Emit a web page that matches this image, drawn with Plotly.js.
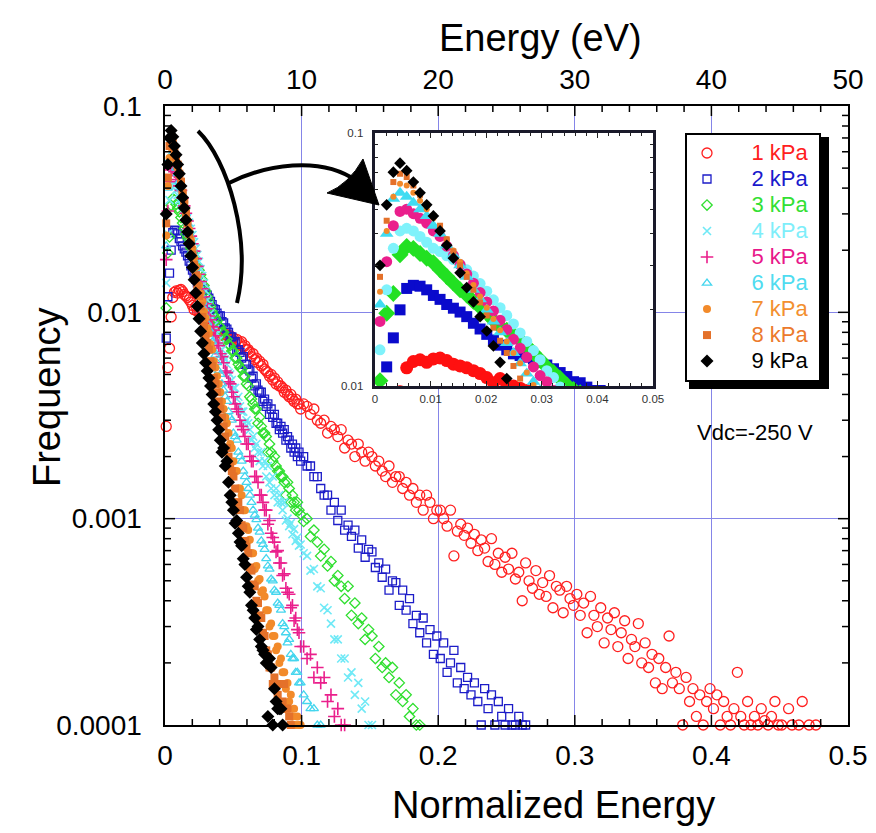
<!DOCTYPE html>
<html><head><meta charset="utf-8">
<script src="https://cdn.plot.ly/plotly-3.0.1.min.js"></script>
<style>html,body{margin:0;padding:0;background:#fff}</style>
</head><body><div id="chart" style="width:876px;height:833px"></div>
<script>
// ---------- DATA (normalized energy bins, frequency per pressure) ----------
const binsFine = [0.0009,0.0021,0.0033,0.0045,0.0057,0.0069,0.0081,0.0093,0.0105,0.0117,
0.0129,0.0141,0.0153,0.0165,0.0177,0.0189,0.0201,0.0213,0.0225,0.0237,
0.0249,0.0261,0.0273,0.0285,0.0297,0.0309,0.0321,0.0333,0.0345,0.0357,
0.0369,0.0381,0.0393,0.0405,0.0417,0.0429,0.0441,0.0453,0.0465,0.0477,
0.0489,0.0501,0.0513,0.0525,0.0537,0.0549,0.0561,0.0573,0.0585,0.0597,
0.0609,0.0621,0.0633,0.0645,0.0657,0.0669,0.0681,0.0693,0.0705,0.0717,
0.0729,0.0741,0.0753,0.0765,0.0777,0.0789,0.0801,0.0813,0.0825,0.0837,
0.0849,0.0861,0.0873,0.0885,0.0897,0.0909,0.0921,0.0933,0.0945,0.0957,
0.0969,0.0981,0.0993];
const binsCoarse = [0.1015,0.104,0.1065,0.109,0.1115,0.114,0.1165,0.119,0.1215,0.124,
0.1265,0.129,0.1315,0.134,0.1365,0.139,0.1415,0.144,0.1465,0.149,
0.1515,0.154,0.1565,0.159,0.1615,0.164,0.1665,0.169,0.1715,0.174,
0.1765,0.179,0.1815,0.184,0.1865,0.189,0.1915,0.194,0.1965,0.199,
0.2015,0.204,0.2065,0.209,0.2115,0.214,0.2165,0.219,0.2215,0.224,
0.2265,0.229,0.2315,0.234,0.2365,0.239,0.2415,0.244,0.2465,0.249,
0.2515,0.254,0.2565,0.259,0.2615,0.264,0.2665,0.269,0.2715,0.274,
0.2765,0.279,0.2815,0.284,0.2865,0.289,0.2915,0.294,0.2965,0.299,
0.3015,0.304,0.3065,0.309,0.3115,0.314,0.3165,0.319,0.3215,0.324,
0.3265,0.329,0.3315,0.334,0.3365,0.339,0.3415,0.344,0.3465,0.349,
0.3515,0.354,0.3565,0.359,0.3615,0.364,0.3665,0.369,0.3715,0.374,
0.3765,0.379,0.3815,0.384,0.3865,0.389,0.3915,0.394,0.3965,0.399,
0.4015,0.404,0.4065,0.409,0.4115,0.414,0.4165,0.419,0.4215,0.424,
0.4265,0.429,0.4315,0.434,0.4365,0.439,0.4415,0.444,0.4465,0.449,
0.4515,0.454,0.4565,0.459,0.4615,0.464,0.4665,0.469,0.4715,0.474,
0.4765];

const f1kPa = [0.0028,0.0054,0.0067,0.0095,0.0118,0.0125,0.0127,0.0124,0.0128,0.0129,
0.0126,0.0122,0.0120,0.0118,0.0115,0.0112,0.0108,0.0103,0.0107,0.0101,
0.0100,0.0098,0.0096,0.0095,0.0093,0.0090,0.0089,0.0087,0.0085,0.0084,
0.0083,0.0080,0.0081,0.0078,0.0081,0.0077,0.0078,0.0078,0.0075,0.0077,
0.0074,0.0075,0.0072,0.0074,0.0070,0.0071,0.0072,0.0068,0.0069,0.0066,
0.0066,0.0064,0.0061,0.0063,0.0059,0.0060,0.0057,0.0058,0.0055,0.0056,
0.0053,0.0052,0.0051,0.0049,0.0050,0.0047,0.0048,0.0045,0.0046,0.0044,
0.0044,0.0043,0.0041,0.0042,0.0040,0.0039,0.0040,0.0038,0.0037,0.0038,
0.0036,0.0036,0.0034,
0.0036,0.0035,0.0032,0.0034,0.0030,0.0029,0.0030,0.0026,0.0028,0.0027,
0.0025,0.0027,0.0022,0.0024,0.0023,0.0020,0.0023,0.0021,0.0019,0.0021,
0.0020,0.0018,0.0019,0.0017,0.0016,0.0018,0.0015,0.0016,0.0016,0.0014,
0.0015,0.0013,0.0014,0.0012,0.0013,0.0011,0.0013,0.0012,0.0010,0.0011,
0.0011,0.0010,0.00092,0.0011,0.00066,0.00087,0.00094,0.00083,0.00090,0.00076,
0.00084,0.00070,0.00079,0.00072,0.00062,0.00080,0.00060,0.00068,0.00055,0.00065,
0.00057,0.00068,0.00051,0.00055,0.00040,0.00061,0.00050,0.00046,0.00056,0.00043,
0.00049,0.00042,0.00053,0.00037,0.00047,0.00045,0.00035,0.00047,0.00041,0.00038,
0.00043,0.00034,0.00039,0.00028,0.00042,0.00034,0.00030,0.00037,0.00025,0.00033,
0.00029,0.00035,0.00024,0.00028,0.00032,0.00021,0.00026,0.00024,0.00031,0.00020,
0.00025,0.00019,0.00022,0.00016,0.00021,0.00015,0.00019,0.00027,0.00016,0.00018,
0.00015,0.0001,0.00017,0.00013,0.00015,0.00011,0.00014,0.0001,0.00013,0.00015,
0.00012,0.00014,0.0001,0.00013,0.00011,0.0001,0.00012,0.00018,0.00011,0.0001,
0.00013,0.0001,0.00011,0.0001,0.00012,0.000105,0.0001,0.00011,0.00013,0.0001,
0.0001,null,0.00012,0.0001,null,0.0001,0.00013,null,0.0001,null,
0.0001];

const f2kPa = [0.0075,0.0119,0.0155,0.020,0.0243,0.025,0.0248,0.024,0.0228,0.022,
0.021,0.0203,0.0196,0.0188,0.0177,0.0168,0.016,0.0152,0.0145,0.0139,
0.0134,0.0132,0.013,0.0128,0.0124,0.0121,0.0117,0.0113,0.0109,0.0104,
0.0103,0.0099,0.0096,0.0096,0.0090,0.0089,0.0084,0.0083,0.0080,0.0076,
0.0076,0.0071,0.0072,0.0066,0.0066,0.0064,0.0060,0.0061,0.0056,0.0056,
0.0053,0.0052,0.0048,0.0049,0.0044,0.0045,0.0042,0.0041,0.0041,0.0037,
0.0038,0.0035,0.0036,0.0032,0.0034,0.0031,0.0032,0.0029,0.0029,0.0027,
0.0028,0.0026,0.0027,0.0024,0.0025,0.0024,0.0022,0.0023,0.0021,0.0022,
0.0020,0.0021,0.0019,
0.0020,0.0018,0.0018,0.0016,0.0016,0.0014,0.0013,0.0013,0.0011,0.0012,
0.00098,0.0011,0.00088,0.00093,0.00082,0.00088,0.00072,0.00079,0.00065,0.00071,
0.00069,0.00058,0.00061,0.00052,0.00057,0.00045,0.00050,0.00049,0.00038,0.00045,
0.00036,0.00041,0.00031,0.00034,0.00028,0.00033,0.00025,0.00029,0.00022,0.00027,
0.00021,0.00025,0.00018,0.0002,0.00023,0.00016,0.00019,0.00015,0.00017,0.00014,
0.00016,0.00013,0.0001,0.00015,0.00012,0.00014,0.0001,0.00013,0.00011,0.0001,
0.00012,0.0001,0.0001,0.00011,0.0001,0.0001];

const f3kPa = [0.0105,0.0194,0.0232,0.033,0.0356,0.035,0.0334,0.032,0.0307,0.0288,
0.0271,0.0255,0.024,0.0229,0.0216,0.0205,0.0194,0.0182,0.0172,0.0166,
0.016,0.0152,0.0144,0.0135,0.0127,0.0119,0.0113,0.0107,0.0101,0.0097,
0.0094,0.0091,0.0086,0.0085,0.0080,0.0080,0.0075,0.0074,0.0070,0.0069,
0.0065,0.0065,0.0060,0.0060,0.0056,0.0054,0.0053,0.0049,0.0049,0.0045,
0.0044,0.0039,0.0038,0.0036,0.0034,0.0034,0.0029,0.0031,0.0028,0.0026,
0.0026,0.0025,0.0021,0.0023,0.0021,0.0019,0.0020,0.0018,0.0017,0.0017,
0.0016,0.0016,0.0015,0.0013,0.0015,0.0014,0.0012,0.0013,0.0012,0.0011,
0.0012,0.0011,0.00105,
0.00097,0.0010,0.00082,0.00088,0.00077,0.00066,0.00071,0.00059,0.00062,0.0005,
0.00053,0.00047,0.00041,0.00047,0.00034,0.00039,0.00031,0.00033,0.00026,0.00029,
0.00027,0.00021,0.00024,0.00019,0.0002,0.00017,0.00019,0.00014,0.00016,0.00013,
0.00014,0.00011,0.00012,0.0001,0.0001];

const f4kPa = [0.0139,0.024,0.035,0.041,0.042,0.041,0.039,0.037,0.035,0.034,
0.0327,0.0316,0.0302,0.0288,0.0272,0.0254,0.0237,0.0219,0.0204,0.019,
0.0176,0.0162,0.0150,0.0138,0.0127,0.0115,0.0108,0.0099,0.0094,0.0086,
0.0083,0.0079,0.0073,0.0070,0.0066,0.0061,0.0059,0.0056,0.0051,0.0050,
0.0047,0.0043,0.0043,0.0038,0.0039,0.0035,0.0033,0.0033,0.0029,0.0030,
0.0029,0.0027,0.0024,0.0025,0.0022,0.0023,0.0021,0.0019,0.0021,0.0018,
0.0019,0.0016,0.0018,0.0015,0.0014,0.0016,0.0013,0.0014,0.0012,0.0013,
0.0012,0.0011,0.0012,0.00098,0.0010,0.00092,0.00095,0.00084,0.00089,0.00078,
0.00081,0.00074,0.00075,
0.00068,0.00066,0.00056,0.00057,0.00047,0.00046,0.00037,0.00036,0.00031,0.00026,
0.00026,0.00021,0.00021,0.00017,0.00018,0.00014,0.00016,0.00012,0.00013,0.0001,
0.0001];

const f5kPa = [0.018,0.031,0.043,0.049,0.050,0.048,0.046,0.044,0.041,0.039,
0.0357,0.0328,0.0302,0.0277,0.0255,0.0234,0.0215,0.0198,0.0182,0.0167,
0.0153,0.0141,0.013,0.0119,0.011,0.0104,0.0096,0.0092,0.0085,0.0082,
0.0077,0.0071,0.0069,0.0063,0.0061,0.0057,0.0052,0.0051,0.0046,0.0045,
0.0041,0.0039,0.0036,0.0034,0.0033,0.0030,0.0028,0.0027,0.0025,0.0023,
0.0023,0.0020,0.0019,0.0019,0.0016,0.0016,0.0015,0.0013,0.0013,0.0012,
0.0011,0.0011,0.00094,0.00098,0.00085,0.00081,0.00077,0.00069,0.00070,0.00061,
0.00061,0.00053,0.00054,0.00046,0.00044,0.00043,0.00037,0.00038,0.00032,0.00033,
0.00029,0.00028,0.00024,
0.00024,0.00021,0.00022,0.00017,0.00019,0.00016,0.00017,0.00013,0.00014,0.00011,
0.00012,0.0001,0.0001];

const f6kPa = [0.021,0.040,0.055,0.058,0.056,0.053,0.050,0.047,0.043,0.040,
0.036,0.033,0.030,0.027,0.024,0.022,0.020,0.018,0.0163,0.0148,
0.0135,0.0123,0.0112,0.0104,0.0096,0.0089,0.0083,0.0075,0.0072,0.0065,
0.0062,0.0057,0.0052,0.0050,0.0045,0.0042,0.0039,0.0037,0.0033,0.0031,
0.0030,0.0026,0.0025,0.0024,0.0021,0.0020,0.0019,0.0017,0.0016,0.0015,
0.0014,0.0013,0.0012,0.0011,0.00104,0.00099,0.0009,0.00086,0.00078,0.00075,
0.00071,0.00064,0.00059,0.00057,0.00051,0.00050,0.00045,0.00044,0.00039,0.00038,
0.00036,0.00031,0.00030,0.00028,0.00025,0.00026,0.00022,0.00021,0.00021,0.00018,
0.00018,0.00016,0.00016,
0.00014,0.00013,0.00012,0.00012,0.0001,0.0001];

const f7kPa = [0.0236,0.041,0.056,0.063,0.062,0.058,0.054,0.050,0.046,0.042,
0.038,0.0343,0.031,0.0279,0.0251,0.0226,0.0204,0.0184,0.0166,0.015,
0.0135,0.0123,0.0113,0.0101,0.0094,0.0084,0.0079,0.0070,0.0066,0.0058,
0.0054,0.0049,0.0045,0.0041,0.0037,0.0034,0.0031,0.0029,0.0026,0.0023,
0.0022,0.0019,0.0017,0.0017,0.0014,0.0014,0.0013,0.0011,0.0011,0.00092,
0.00088,0.00079,0.00068,0.00068,0.00057,0.00059,0.00050,0.00051,0.00044,0.00045,
0.00042,0.00036,0.00036,0.00030,0.00031,0.00027,0.00027,0.00023,0.00024,0.0002,
0.00021,0.00018,0.00018,0.00015,0.00016,0.00013,0.00014,0.00011,0.00012,0.0001,
0.00011,0.0001,0.0001];

const f8kPa = [0.027,0.045,0.064,0.069,0.067,0.062,0.057,0.052,0.047,0.043,
0.038,0.034,0.030,0.027,0.024,0.0214,0.019,0.017,0.0151,0.0135,
0.0120,0.0107,0.0095,0.0086,0.0077,0.0071,0.0066,0.0058,0.0055,0.0048,
0.0045,0.0041,0.0037,0.0034,0.0031,0.0028,0.0025,0.0022,0.0020,0.0018,
0.0017,0.0016,0.0014,0.0012,0.0012,0.0011,0.00093,0.0009,0.00078,0.00073,
0.00068,0.00058,0.00056,0.00048,0.00047,0.0004,0.00039,0.00034,0.00033,0.00028,
0.00027,0.00023,0.00022,0.00019,0.00019,0.000158,0.00017,0.000158,0.00014,0.000158,
0.000158,0.00013,0.000158,0.00012,0.00012,0.00011,0.0001];

const f9kPa = [0.030,0.052,0.070,0.076,0.071,0.064,0.058,0.052,0.047,0.041,
0.036,0.032,0.028,0.0245,0.0215,0.0188,0.0165,0.0144,0.0124,0.0107,
0.0093,0.0081,0.0071,0.0063,0.0057,0.0052,0.0048,0.0044,0.0040,0.0036,
0.0033,0.0030,0.0027,0.0024,0.0021,0.0022,0.0018,0.0019,0.0015,0.0013,
0.0012,0.0011,0.00095,0.00098,0.00085,0.00077,0.00074,0.00064,0.00060,0.00052,
0.00047,0.00044,0.00038,0.00036,0.00033,0.00029,0.00030,0.00026,0.00024,0.00023,
0.00022,0.00020,0.00011,0.00021,0.00019,0.0001,0.00015,0.00013,0.00012,0.00012,
0.00012,0.0001];

const seriesNames = ['1 kPa','2 kPa','3 kPa','4 kPa','5 kPa','6 kPa','7 kPa','8 kPa','9 kPa'];
const seriesValues = [f1kPa,f2kPa,f3kPa,f4kPa,f5kPa,f6kPa,f7kPa,f8kPa,f9kPa];
const xRange = [0, 0.5];
const yLogRange = [-4, -1];
const freqTicks = [0.0001,0.001,0.01,0.1];
const freqTickText = ['0.0001','0.001','0.01','0.1'];
const freqMinor = [0.0002,0.0003,0.0004,0.0005,0.0006,0.0007,0.0008,0.0009,
  0.002,0.003,0.004,0.005,0.006,0.007,0.008,0.009,0.02,0.03,0.04,0.05,0.06,0.07,0.08,0.09];
const freqInnerMajor = [0.001,0.01];
const energyMajor = [0.1,0.2,0.3,0.4];
const energyMinor = [0.02,0.04,0.06,0.08,0.12,0.14,0.16,0.18,0.22,0.24,0.26,0.28,
  0.32,0.34,0.36,0.38,0.42,0.44,0.46,0.48];
const insetTicks = [0.01,0.1];
const insetTickText = ['0.01','0.1'];
const insetMinor = [0.02,0.03,0.04,0.05,0.06,0.07,0.08,0.09];

// ---------- STYLES ----------
const mainStyle = [
  {sym:'circle-open', size:10, col:'#ff1f1f', lw:1.3, tcol:'#ff2020'},
  {sym:'square-open', size:8, col:'#1c1cc8', lw:1.3, tcol:'#1a1acc'},
  {sym:'diamond-open', size:8, col:'#2fdf2f', lw:1.3, tcol:'#33e033'},
  {sym:'x-thin-open', size:8, col:'#6fe9f6', lw:1.6, tcol:'#7eeefa'},
  {sym:'cross-thin-open', size:9, col:'#ea1f8c', lw:1.6, tcol:'#e8188a'},
  {sym:'triangle-up-open', size:8, col:'#45d6ee', lw:1.3, tcol:'#4fdcf0'},
  {sym:'circle', size:8, col:'#f28a2a', lw:0, tcol:'#f39030'},
  {sym:'square', size:8, col:'#e4712a', lw:0, tcol:'#ec7a2c'},
  {sym:'diamond', size:10, col:'#000000', lw:0, tcol:'#000000'}
];
const insetStyle = [
  {sym:'circle', size:13, col:'#ff1010'},
  {sym:'square', size:11, col:'#0a0acc'},
  {sym:'diamond', size:13, col:'#22e022'},
  {sym:'circle', size:11, col:'#7ff2fb'},
  {sym:'circle', size:11, col:'#ea1f8c'},
  {sym:'triangle-up', size:12, col:'#40dcf2'},
  {sym:'circle', size:6, col:'#f28a2a'},
  {sym:'square', size:6, col:'#e4712a'},
  {sym:'diamond', size:9, col:'#000000'}
];

const allBins = binsFine.concat(binsCoarse);
const traces = [];
seriesValues.forEach((vals, i) => {
  const s = mainStyle[i];
  traces.push({
    type:'scatter', mode:'markers', xaxis:'x', yaxis:'y', cliponaxis:false,
    x: allBins.slice(0, vals.length), y: vals,
    name: '<span style="color:' + s.tcol + ';font-size:22px">\u00a0\u00a0\u00a0\u00a0' + seriesNames[i] + '\u00a0</span>',
    marker:{symbol:s.sym, size:s.size, color:s.col, line:{color:s.col, width:s.lw}},
    hoverinfo:'skip'
  });
});
seriesValues.forEach((vals, i) => {
  const s = insetStyle[i];
  traces.push({
    type:'scatter', mode:'markers', xaxis:'x3', yaxis:'y3', showlegend:false,
    x: allBins.slice(0, vals.length), y: vals,
    marker:{symbol:s.sym, size:s.size, color:s.col, line:{width:0}},
    hoverinfo:'skip'
  });
});
// empty trace so that the top Energy (eV) axis is drawn
traces.push({type:'scatter', mode:'markers', xaxis:'x2', yaxis:'y', x:[], y:[], showlegend:false, hoverinfo:'skip'});

// ---------- LAYOUT ----------
const L = 165, T = 106, W = 683, H = 619;
const px = v => (v - L) / W;
const py = v => 1 - (v - T) / H;
const P = (x, y) => px(x).toFixed(5) + ',' + py(y).toFixed(5);
const FONT = 'Liberation Sans, Arial, Helvetica, sans-serif';
const grid = '#8585e8';
const pad2 = '\u00a0\u00a0';

// inside tick marks of the main frame (drawn as unclipped frame decorations)
const fracX = v => (v - xRange[0]) / (xRange[1] - xRange[0]);
const fracY = v => (Math.log10(v) - yLogRange[0]) / (yLogRange[1] - yLogRange[0]);
const tickShapes = [];
const tickLine = {color:'#000', width:1.5};
function xTick(v, len) {
  const f = fracX(v), d = len / H;
  tickShapes.push({type:'line', layer:'above', xref:'paper', yref:'paper', x0:f, x1:f, y0:0, y1:d, line:tickLine});
  tickShapes.push({type:'line', layer:'above', xref:'paper', yref:'paper', x0:f, x1:f, y0:1, y1:1 - d, line:tickLine});
}
function yTick(v, len) {
  const f = fracY(v), d = len / W;
  tickShapes.push({type:'line', layer:'above', xref:'paper', yref:'paper', y0:f, y1:f, x0:0, x1:d, line:tickLine});
  tickShapes.push({type:'line', layer:'above', xref:'paper', yref:'paper', y0:f, y1:f, x0:1, x1:1 - d, line:tickLine});
}
energyMajor.forEach(v => xTick(v, 10));
energyMinor.forEach(v => xTick(v, 6));
freqInnerMajor.forEach(v => yTick(v, 10));
freqMinor.forEach(v => yTick(v, 6));

const layout = {
  width:876, height:833,
  margin:{l:L, r:876 - L - W, t:T, b:833 - T - H, pad:0},
  paper_bgcolor:'#ffffff', plot_bgcolor:'#ffffff',
  font:{family:FONT, color:'#000', size:20},
  showlegend:true,
  legend:{x:px(685), y:py(133), xanchor:'left', yanchor:'top', bgcolor:'#ffffff',
    bordercolor:'#000', borderwidth:2, font:{size:17.7, family:FONT}, itemwidth:30, tracegroupgap:0},
  xaxis:{domain:[0,1], anchor:'y', range:xRange, dtick:0.1, tick0:0, ticks:'',
    showgrid:true, gridcolor:grid, gridwidth:1.2, zeroline:false,
    showline:true, linecolor:'#000', linewidth:2, mirror:true,
    tickfont:{size:28, family:FONT}, ticklabelstandoff:4},
  xaxis2:{overlaying:'x', anchor:'y', side:'top', range:[0,50], dtick:10, tick0:0, ticks:'',
    showgrid:false, zeroline:false, showline:false,
    tickfont:{size:28, family:FONT}, ticklabelstandoff:10},
  yaxis:{domain:[0,1], anchor:'x', type:'log', range:yLogRange,
    tickmode:'array', tickvals:freqTicks, ticktext:freqTickText.map(t => t + pad2), ticks:'',
    showgrid:true, gridcolor:grid, gridwidth:1.2, zeroline:false,
    showline:true, linecolor:'#000', linewidth:2, mirror:true,
    tickfont:{size:28, family:FONT}},
  xaxis3:{domain:[px(375), px(653)], anchor:'y3', range:[0,0.05], dtick:0.01, tick0:0,
    ticks:'inside', ticklen:5, tickwidth:1, tickcolor:'#222',
    minor:{dtick:0.002, tick0:0, ticks:'inside', ticklen:3, tickwidth:1, tickcolor:'#222'},
    showgrid:false, zeroline:false, showline:true, linecolor:'#1a1a2a', linewidth:3, mirror:'ticks',
    tickfont:{size:11.5, family:FONT, color:'#333'}},
  yaxis3:{domain:[py(386), py(133)], anchor:'x3', type:'log', range:[-2,-1],
    tickmode:'array', tickvals:insetTicks, ticktext:insetTickText.map(t => t + pad2),
    ticks:'inside', ticklen:5, tickwidth:1, tickcolor:'#222',
    minor:{tickmode:'array', tickvals:insetMinor, ticks:'inside', ticklen:3, tickwidth:1, tickcolor:'#222'},
    showgrid:false, zeroline:false, showline:true, linecolor:'#1a1a2a', linewidth:3, mirror:'ticks',
    tickfont:{size:11.5, family:FONT, color:'#333'}},
  annotations:[
    {text:'Normalized Energy', xref:'paper', yref:'paper', x:px(553), y:py(805), showarrow:false,
      xanchor:'center', yanchor:'middle', font:{size:38, family:FONT}},
    {text:'Energy (eV)', xref:'paper', yref:'paper', x:px(540), y:py(38), showarrow:false,
      xanchor:'center', yanchor:'middle', font:{size:38, family:FONT}},
    {text:'Frequency', xref:'paper', yref:'paper', x:px(47), y:py(397), showarrow:false, textangle:-90,
      xanchor:'center', yanchor:'middle', font:{size:38, family:FONT}},
    {text:'Vdc=-250 V', xref:'paper', yref:'paper', x:px(755), y:py(432), showarrow:false,
      xanchor:'center', yanchor:'middle', font:{size:22, family:FONT}}
  ],
  shapes:[
    {type:'rect', xref:'paper', yref:'paper', layer:'above', x0:px(689), x1:px(829), y0:py(137), y1:py(389),
      fillcolor:'#000', line:{width:0}},
    {type:'path', xref:'paper', yref:'paper', layer:'above',
      path:'M' + P(198,131) + ' C' + P(228,160) + ' ' + P(252,240) + ' ' + P(237,303),
      line:{color:'#000', width:4}},
    {type:'path', xref:'paper', yref:'paper', layer:'above',
      path:'M' + P(229,183) + ' C' + P(265,165) + ' ' + P(320,155) + ' ' + P(357,181),
      line:{color:'#000', width:4}},
    {type:'path', xref:'paper', yref:'paper', layer:'above',
      path:'M' + P(327,193) + ' Q' + P(349,184) + ' ' + P(363,159) + ' L' + P(379,205) + ' Z',
      fillcolor:'#000', line:{color:'#000', width:1}}
  ].concat(tickShapes)
};

Plotly.newPlot('chart', traces, layout, {displayModeBar:false, staticPlot:true});
</script>
</body></html>
